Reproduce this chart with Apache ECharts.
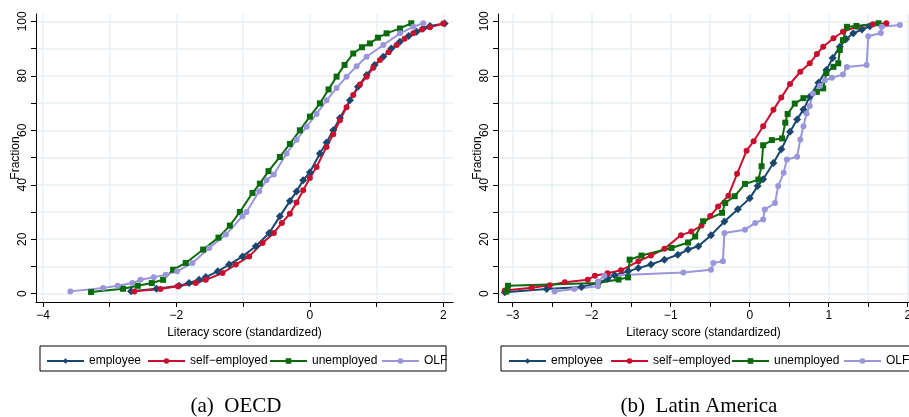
<!DOCTYPE html>
<html>
<head>
<meta charset="utf-8">
<script src="https://cdn.jsdelivr.net/npm/echarts@6.0.0/dist/echarts.min.js"></script>
<style>
    html, body { margin: 0; padding: 0; background: #fff; }
    #chart { width: 909px; height: 417px; }
</style>
</head>
<body>
<div id="chart"></div>
<script>
// group names (legend order)
const groups = ["employee", "self\u2212employed", "unemployed", "OLF"];
const groupColors = ["#1a476f", "#c8102e", "#0b6a0b", "#9b96d9"];
const groupSymbols = ["diamond", "circle", "rect", "circle"];
const groupSymbolSizes = [8, 6, 6, 6];

// ticks
const oecdXTicks = [-4, -3, -2, -1, 0, 1, 2];
const oecdXLabels = [-4, -2, 0, 2];
const latamXTicks = [-3, -2.5, -2, -1.5, -1, -0.5, 0, 0.5, 1, 1.5, 2];
const latamXLabels = [-3, -2, -1, 0, 1, 2];
const yTicks = [0, 10, 20, 30, 40, 50, 60, 70, 80, 90, 100];
const yLabels = [0, 20, 40, 60, 80, 100];

// (a) OECD : [literacy score, cumulative %]
const oecdEmployee = [[-2.68,0.9],[-2.3,1.8],[-1.96,2.9],[-1.81,3.9],[-1.66,5.1],[-1.56,6.1],[-1.38,8.2],[-1.21,10.7],[-1.01,13.7],[-0.81,17.4],[-0.61,22.3],[-0.45,28.4],[-0.3,34],[-0.2,37.5],[-0.1,41.7],[0,44.6],[0.15,51.5],[0.25,55.5],[0.35,60],[0.45,64.5],[0.6,71],[0.72,76],[0.85,80.3],[0.97,84],[1.1,87],[1.22,90],[1.35,92.5],[1.48,94.6],[1.6,96.2],[1.7,97.5],[1.8,98.3],[2.02,99.2]];
const oecdSelf = [[-2.63,0.85],[-2.24,1.7],[-1.98,2.7],[-1.71,3.9],[-1.56,5.1],[-1.31,7.6],[-1.11,10.7],[-0.91,13.7],[-0.71,18.6],[-0.54,22.3],[-0.42,26],[-0.3,29.4],[-0.2,33.5],[-0.1,38],[0,42.5],[0.1,46.5],[0.25,53.9],[0.35,58.5],[0.45,63.7],[0.55,68.5],[0.65,73],[0.75,76.8],[0.85,79.7],[0.95,83],[1.05,85.8],[1.18,88.7],[1.3,91.3],[1.42,93.6],[1.55,95.6],[1.68,97],[1.8,97.8],[2.0,99.2]];
const oecdUnemployed = [[-3.28,0.6],[-2.8,1.8],[-2.58,2.9],[-2.37,3.9],[-2.2,5.1],[-2.05,8.8],[-1.86,11.3],[-1.6,16.2],[-1.37,20.6],[-1.2,25],[-1.05,30],[-0.86,37],[-0.75,40.4],[-0.62,45],[-0.45,50.2],[-0.3,55],[-0.15,60],[0,65],[0.15,69.9],[0.28,75],[0.4,79.7],[0.52,84],[0.65,88.2],[0.78,90.5],[0.9,91.9],[1.02,94],[1.15,95.6],[1.35,97.4],[1.52,99.3]];
const oecdOlf = [[-3.59,0.85],[-3.1,2.1],[-2.88,2.9],[-2.66,3.9],[-2.54,5.1],[-2.34,6],[-2.16,7],[-1.99,8.2],[-1.76,11.3],[-1.51,16.8],[-1.26,21.7],[-1.01,28.4],[-0.95,30],[-0.76,37.6],[-0.65,41.7],[-0.54,43.8],[-0.35,51.5],[-0.2,56.5],[-0.05,61.3],[0.1,66],[0.25,71],[0.4,75.5],[0.55,79.7],[0.7,83.5],[0.85,87],[1.1,91.3],[1.35,95.6],[1.55,98],[1.7,99.3]];

// (b) Latin America
const latamEmployee = [[-3.1,0.5],[-2.57,1.7],[-2.13,2.5],[-1.92,3.9],[-1.8,5.5],[-1.71,6.8],[-1.54,8.2],[-1.41,9.4],[-1.25,10.7],[-1.08,12.5],[-0.91,14.3],[-0.78,16.2],[-0.65,17.4],[-0.49,21.5],[-0.32,26.5],[-0.15,31],[0,35],[0.1,39.5],[0.17,42],[0.3,48],[0.4,53],[0.51,59.5],[0.6,64],[0.68,67.6],[0.76,72.3],[0.87,77.5],[0.97,82.1],[1.05,86.5],[1.14,90.7],[1.22,93.5],[1.31,95.6],[1.42,97],[1.52,98.2]];
const latamSelf = [[-3.1,1.2],[-2.76,2.2],[-2.53,3.1],[-2.34,4.2],[-2.05,5.1],[-1.96,6.6],[-1.8,7.5],[-1.63,8.6],[-1.41,11.9],[-1.25,14],[-1.08,16.5],[-0.87,21.5],[-0.74,22.8],[-0.61,25],[-0.5,28.5],[-0.4,32],[-0.27,36],[-0.16,44],[-0.04,52.5],[0.05,56],[0.17,61.5],[0.3,67.5],[0.4,72],[0.51,77],[0.64,81.5],[0.76,84.6],[0.85,88],[0.93,90.7],[1.06,93.8],[1.18,96.2],[1.35,98],[1.56,98.9],[1.73,99.3]];
const latamUnemployed = [[-3.08,0.8],[-3.06,2.9],[-1.92,3.9],[-1.66,5.2],[-1.54,6],[-1.52,12.5],[-1.37,14],[-0.99,16.8],[-0.78,18.8],[-0.69,21],[-0.59,26.6],[-0.35,29.7],[-0.31,33.3],[-0.19,35.8],[-0.06,40.3],[0.11,41.9],[0.15,46.8],[0.17,54.5],[0.28,56.4],[0.41,57],[0.45,62.8],[0.48,66],[0.57,69.8],[0.68,71.8],[0.85,74.1],[0.93,75.4],[0.97,81],[1.06,83.3],[1.12,84.6],[1.14,89.5],[1.18,93.1],[1.23,98],[1.35,98.3],[1.63,99.3]];
const latamOlf = [[-2.47,0.8],[-2.22,1.7],[-1.92,2.7],[-1.92,4.5],[-1.84,6.6],[-0.84,7.8],[-0.49,8.8],[-0.46,11.3],[-0.34,11.9],[-0.32,22.3],[-0.06,23.5],[0.07,26],[0.17,27.2],[0.19,30.9],[0.32,33.3],[0.36,39.5],[0.43,44.4],[0.47,49.3],[0.6,50.3],[0.64,56.6],[0.68,61.5],[0.72,66.2],[0.76,68.9],[0.8,73.5],[0.89,76.4],[0.95,78.4],[1.04,79.3],[1.18,80.5],[1.23,83.2],[1.48,84],[1.5,94.5],[1.66,95.7],[1.67,98],[1.9,98.7]];

const oecdData = [oecdEmployee, oecdSelf, oecdUnemployed, oecdOlf];
const latamData = [latamEmployee, latamSelf, latamUnemployed, latamOlf];

const FONT = "Liberation Sans, Arial, sans-serif";
const SERIF = "Liberation Serif, Times New Roman, serif";
const GRIDLINE = "#e9f1f2";

function xAxisFor(gridIndex, min, max, ticks, labels) {
    return {
        type: "value", gridIndex, min, max,
        name: "Literacy score (standardized)",
        nameLocation: "middle", nameGap: 25, nameMoveOverlap: false,
        nameTextStyle: { color: "#000", fontSize: 12, fontFamily: FONT },
        axisLine: { onZero: false, lineStyle: { color: "#000", width: 1 } },
        axisTick: { show: true, length: 5, customValues: ticks, lineStyle: { color: "#000" } },
        axisLabel: { customValues: labels, margin: 8, color: "#000", fontSize: 12, fontFamily: FONT,
                     formatter: v => String(v).replace("-", "\u2212") },
        splitLine: { show: true, lineStyle: { color: GRIDLINE, width: 1.5 } }
    };
}

function yAxisFor(gridIndex) {
    return {
        type: "value", gridIndex, min: -3.05, max: 102.7,
        name: "Fraction",
        nameLocation: "middle", nameGap: 14, nameRotate: 90, nameMoveOverlap: false,
        nameTextStyle: { color: "#000", fontSize: 12, fontFamily: FONT },
        axisLine: { show: true, onZero: false, lineStyle: { color: "#000", width: 1 } },
        axisTick: { show: true, length: 5, customValues: yTicks, lineStyle: { color: "#000" } },
        axisLabel: { customValues: yLabels, rotate: 90, margin: 7, color: "#000", fontSize: 12, fontFamily: FONT },
        splitLine: { show: true, lineStyle: { color: GRIDLINE, width: 1.5 } }
    };
}

function seriesFor(data, axisIndex) {
    return data.map((d, i) => ({
        name: groups[i],
        type: "line",
        xAxisIndex: axisIndex,
        yAxisIndex: axisIndex,
        data: d,
        symbol: groupSymbols[i],
        symbolSize: groupSymbolSizes[i],
        showSymbol: true,
        color: groupColors[i],
        lineStyle: { width: 2, color: groupColors[i] },
        itemStyle: { color: groupColors[i] }
    }));
}

// legend: one per item so the columns line up like the original
const legendTextLeft = [[88, 189, 311, 423], [550, 652, 773, 885]];
const legends = [];
legendTextLeft.forEach(row => {
    row.forEach((tx, i) => {
        legends.push({
            data: [groups[i]],
            left: tx - 42, top: 355,
            padding: 0,
            itemWidth: 37, itemHeight: 7, itemGap: 0,
            selectedMode: false,
            textStyle: { color: "#000", fontSize: 12, fontFamily: FONT }
        });
    });
});

const chart = echarts.init(document.getElementById("chart"));

chart.setOption({
    animation: false,
    backgroundColor: "#fff",

    grid: [
        { left: 36, right: 456, top: 14, bottom: 115, outerBoundsMode: "none" },   // OECD
        { left: 498, right: 0, top: 14, bottom: 115, outerBoundsMode: "none" }     // Latin America
    ],

    xAxis: [
        xAxisFor(0, -4.105, 2.145, oecdXTicks, oecdXLabels),
        xAxisFor(1, -3.186, 2.016, latamXTicks, latamXLabels)
    ],

    yAxis: [yAxisFor(0), yAxisFor(1)],

    legend: legends,

    graphic: [
        { type: "rect", shape: { x: 40, y: 346, width: 406, height: 25 },
          style: { fill: "none", stroke: "#000", lineWidth: 1 }, silent: true },
        { type: "rect", shape: { x: 501, y: 346, width: 430, height: 25 },
          style: { fill: "none", stroke: "#000", lineWidth: 1 }, silent: true },
        { type: "text", x: 236, y: 406,
          style: { text: "(a)  OECD", font: "21px " + SERIF, fill: "#000", align: "center", verticalAlign: "middle" } },
        { type: "text", x: 699, y: 406,
          style: { text: "(b)  Latin America", font: "21px " + SERIF, fill: "#000", align: "center", verticalAlign: "middle" } }
    ],

    series: [
        ...seriesFor(oecdData, 0),
        ...seriesFor(latamData, 1)
    ]
});
</script>
</body>
</html>
